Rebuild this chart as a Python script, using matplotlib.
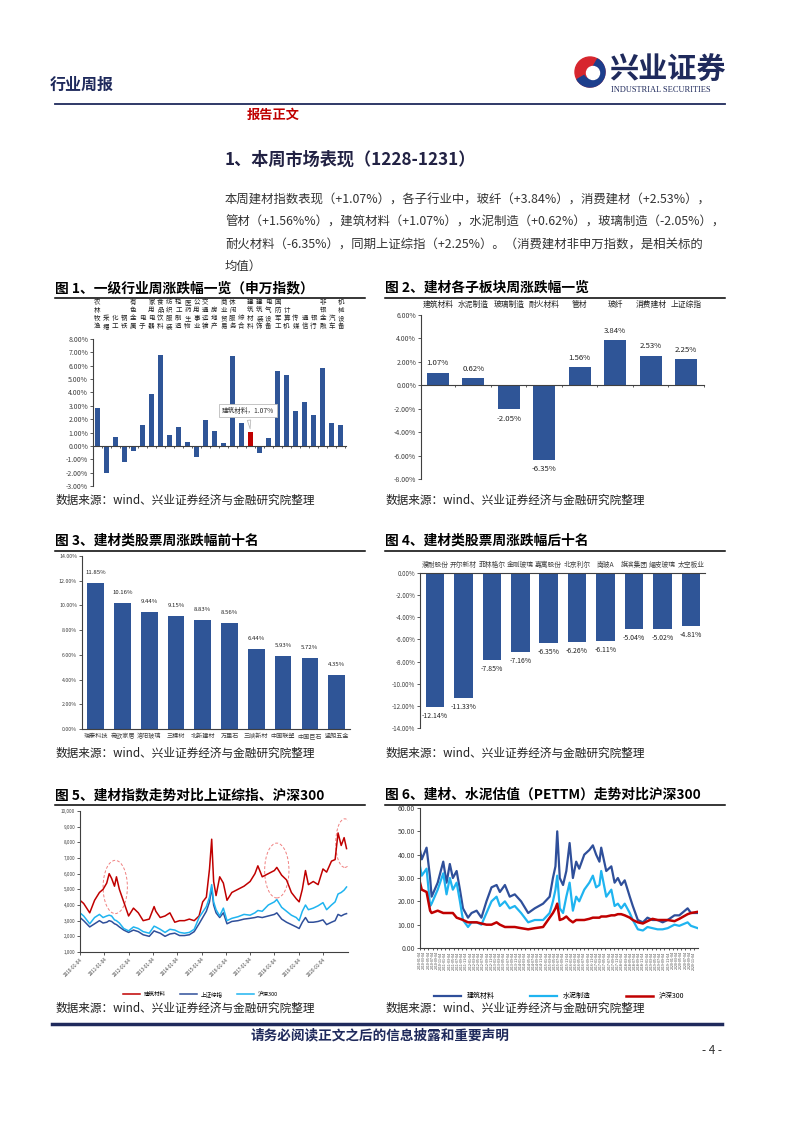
import matplotlib.pyplot as plt
import matplotlib.transforms as mtransforms
from matplotlib.patches import Ellipse, Wedge, Circle
import numpy as np

plt.rcParams['font.family'] = ['Noto Sans CJK SC', 'DejaVu Sans']
plt.rcParams['axes.unicode_minus'] = False

W, H = 793, 1122
NAVY = "#1F2A5C"
BAR = "#2F5597"
RED = "#C00000"
LIGHT = "#1FB4F0"

# 图1 申万一级行业周涨跌幅
sw_names = ["农林牧渔", "采掘", "化工", "钢铁", "有色金属", "电子", "家用电器", "食品饮料",
            "纺织服装", "轻工制造", "医药生物", "公用事业", "交通运输", "房地产", "商业贸易",
            "休闲服务", "综合", "建筑材料", "建筑装饰", "电气设备", "国防军工", "计算机",
            "传媒", "通信", "银行", "非银金融", "汽车", "机械设备"]
sw_values = [2.83, -2.00, 0.70, -1.17, -0.35, 1.55, 3.88, 6.80, 0.85, 1.40, 0.28, -0.83,
             1.95, 1.15, 0.20, 6.75, 1.70, 1.07, -0.50, 0.60, 5.60, 5.27, 2.60, 3.25,
             2.30, 5.80, 1.70, 1.60]

# 图2 建材子板块
sub_names = ["建筑材料", "水泥制造", "玻璃制造", "耐火材料", "管材", "玻纤", "消费建材", "上证综指"]
sub_values = [1.07, 0.62, -2.05, -6.35, 1.56, 3.84, 2.53, 2.25]

# 图3 前十名
top_names = ["瑞泰科技", "帝欧家居", "洛阳玻璃", "三棵树", "北新建材", "万里石", "三峡新材",
             "中国联塑", "中国巨石", "坚朗五金"]
top_values = [11.85, 10.16, 9.44, 9.15, 8.83, 8.56, 6.44, 5.93, 5.72, 4.35]

# 图4 后十名
bot_names = ["濮耐股份", "开尔新材", "菲林格尔", "金刚玻璃", "嘉寓股份", "北京利尔", "南玻A",
             "旗滨集团", "耀皮玻璃", "太空板业"]
bot_values = [-12.14, -11.33, -7.85, -7.16, -6.35, -6.26, -6.11, -5.04, -5.02, -4.81]

# 图5 指数走势（年份小数）
idx_t = [2010.0, 2010.15, 2010.4, 2010.6, 2010.8, 2010.95, 2011.1, 2011.2, 2011.3, 2011.42,
         2011.5, 2011.62, 2011.8, 2012.0, 2012.2, 2012.4, 2012.6, 2012.85, 2013.05, 2013.12,
         2013.3, 2013.5, 2013.7, 2013.9, 2014.1, 2014.3, 2014.5, 2014.7, 2014.9, 2015.05,
         2015.2, 2015.33, 2015.42, 2015.5, 2015.6, 2015.75, 2015.9, 2016.05, 2016.25,
         2016.5, 2016.75, 2017.0, 2017.2, 2017.32, 2017.5, 2017.75, 2018.0, 2018.1, 2018.3,
         2018.5, 2018.7, 2018.9, 2019.02, 2019.15, 2019.28, 2019.4, 2019.6, 2019.8, 2020.0,
         2020.15, 2020.35, 2020.5, 2020.62, 2020.75, 2020.87, 2020.97]
jc_index = [4300, 4100, 3500, 4300, 4800, 5000, 5400, 6000, 5700, 5200, 5800, 5000, 4200, 3300,
            3800, 3500, 3000, 3100, 3900, 3600, 3200, 3300, 3500, 2900, 3000, 3000, 3100, 3000,
            3300, 4200, 4500, 6300, 8200, 5500, 4600, 5800, 5400, 4300, 4800, 5000, 5200, 5500,
            6000, 6500, 5800, 6000, 6200, 6400, 5900, 5600, 4800, 4400, 4200, 5000, 6200, 5300,
            5500, 5300, 6300, 6100, 6800, 6900, 8600, 7800, 8300, 7600]
sh_index = [3200, 3000, 2600, 2800, 3000, 2850, 2900, 3000, 2950, 2800, 2750, 2600, 2400, 2250,
            2400, 2300, 2100, 2000, 2350, 2300, 2200, 2000, 2150, 2200, 2050, 2050, 2100, 2300,
            2800, 3200, 3600, 4200, 5100, 4000, 3500, 3200, 3500, 2800, 2950, 3000, 3100, 3150,
            3200, 3250, 3200, 3300, 3400, 3500, 3100, 2900, 2750, 2600, 2500, 2900, 3200, 2900,
            2900, 2950, 3050, 2750, 2900, 3000, 3400, 3300, 3400, 3450]
hs_index = [3500, 3300, 2800, 3200, 3400, 3200, 3300, 3350, 3300, 3050, 3000, 2850, 2500, 2350,
            2600, 2500, 2300, 2200, 2650, 2600, 2450, 2250, 2450, 2400, 2250, 2200, 2250, 2450,
            3200, 3550, 3900, 4500, 5300, 4200, 3700, 3300, 3800, 3000, 3150, 3250, 3400, 3350,
            3500, 3650, 3600, 4000, 4200, 4350, 3850, 3600, 3350, 3200, 3000, 3600, 4000, 3700,
            3800, 3950, 4150, 3700, 4000, 4200, 4700, 4800, 4950, 5150]

# 图6 PE(TTM)
pe_t = [2010.0, 2010.07, 2010.26, 2010.4, 2010.46, 2010.7, 2010.92, 2011.05, 2011.18, 2011.3,
        2011.45, 2011.58, 2011.7, 2011.9, 2012.04, 2012.24, 2012.43, 2012.63, 2012.83,
        2013.03, 2013.16, 2013.36, 2013.55, 2013.75, 2014.0, 2014.28, 2014.54, 2014.87,
        2015.13, 2015.26, 2015.36, 2015.43, 2015.53, 2015.66, 2015.79, 2015.92, 2016.05,
        2016.18, 2016.3, 2016.5, 2016.7, 2016.84, 2016.97, 2017.1, 2017.17, 2017.37, 2017.57,
        2017.7, 2017.83, 2017.96, 2018.1, 2018.3, 2018.42, 2018.62, 2018.82, 2019.0, 2019.2,
        2019.4, 2019.6, 2019.8, 2020.07, 2020.26, 2020.59, 2020.72, 2020.99]
pe_jc = [42, 38, 43, 30, 22, 28, 37, 28, 36, 30, 33, 25, 17, 13, 15, 16, 13, 20, 26, 27, 24, 27,
         22, 23, 20, 15, 17, 19, 22, 30, 35, 50, 30, 27, 33, 45, 30, 37, 34, 40, 42, 44, 40, 37,
         43, 33, 35, 28, 30, 27, 29, 22, 18, 12, 11, 13, 12, 12, 11, 12, 14, 14, 17, 15, 15]
pe_sn = [35, 31, 34, 18, 19, 25, 32, 23, 30, 25, 28, 20, 12, 9, 11, 11, 10, 15, 20, 22, 18, 20,
         17, 18, 15, 11, 12, 12, 15, 20, 25, 31, 17, 15, 22, 28, 16, 22, 20, 25, 28, 31, 26, 27,
         33, 22, 25, 18, 19, 17, 19, 15, 12, 8, 7.5, 9, 8.5, 8, 8, 8.5, 10, 9.5, 11, 9.5, 8.5]
pe_hs = [28, 25, 24, 16, 15, 16, 15, 15, 15, 15, 13, 12.5, 12, 11, 11, 11, 10.5, 10, 10, 11, 10,
         9, 9, 9, 8.5, 8, 8.5, 9, 13, 15, 17, 19, 12, 12.5, 13.5, 12, 11, 12, 12, 12, 12.5, 13,
         13, 13, 13.5, 13.5, 14, 14, 14.5, 14.5, 14, 13, 12, 11, 10.5, 11.5, 12.5, 12, 12, 12,
         11.5, 12.5, 14.5, 15, 15.5]

body_lines = [
    "本周建材指数表现（+1.07%），各子行业中，玻纤（+3.84%），消费建材（+2.53%），",
    "管材（+1.56%%），建筑材料（+1.07%），水泥制造（+0.62%），玻璃制造（-2.05%），",
    "耐火材料（-6.35%），同期上证综指（+2.25%）。（消费建材非申万指数，是相关标的",
    "均值）",
]
source = "数据来源：wind、兴业证券经济与金融研究院整理"

fig = plt.figure(figsize=(W / 100, H / 100), dpi=100)

# 整页坐标（像素）
pg = fig.add_axes([0, 0, 1, 1])
pg.set_xlim(0, W)
pg.set_ylim(H, 0)
pg.axis('off')


def page_axes(left, top, right, bottom):
    return fig.add_axes([left / W, 1 - bottom / H, (right - left) / W, (bottom - top) / H])


def style_axes(ax, fs):
    for s in ['top', 'right']:
        ax.spines[s].set_visible(False)
    for s in ['left', 'bottom']:
        ax.spines[s].set_color('#404040')
        ax.spines[s].set_linewidth(0.8)
    ax.tick_params(axis='both', labelsize=fs, length=2, width=0.6, colors='#404040',
                   pad=1.5)


# 页眉
pg.text(50, 85, "行业周报", fontsize=11.5, fontweight='bold', color=NAVY, va='center')
pg.plot([55, 725], [104, 104], color=NAVY, lw=1.3)
pg.add_patch(Circle((590, 72), 15, color='#D7262E'))
pg.add_patch(Wedge((590, 72), 15, -60, 150, width=8, color='#1D3E8C'))
pg.add_patch(Circle((593, 73), 6.5, color='white'))
pg.text(609, 70, "兴业证券", fontsize=21, fontweight='bold', color=NAVY, va='center')
pg.text(611, 90, "INDUSTRIAL SECURITIES", fontsize=6, family='Liberation Serif',
        color=NAVY, va='center')
pg.text(247, 115, "报告正文", fontsize=9.5, fontweight='bold', color=RED, va='center')
pg.text(225, 160, "1、本周市场表现（1228-1231）", fontsize=12.3, fontweight='bold',
        color='#222244', va='center')
for k, line in enumerate(body_lines):
    pg.text(225, 200 + 22 * k, line, fontsize=8.9, color='#333333', va='center')

# 图标题与来源
titles = [
    (55, 288, 365, "图 1、一级行业周涨跌幅一览（申万指数）"),
    (385, 288, 725, "图 2、建材各子板块周涨跌幅一览"),
    (55, 541, 365, "图 3、建材类股票周涨跌幅前十名"),
    (385, 541, 725, "图 4、建材类股票周涨跌幅后十名"),
    (55, 795, 365, "图 5、建材指数走势对比上证综指、沪深300"),
    (385, 795, 725, "图 6、建材、水泥估值（PETTM）走势对比沪深300"),
]
for x0, y0, x1, t in titles:
    pg.text(x0, y0, t, fontsize=9.9, fontweight='bold', color='black', va='center')
    pg.plot([x0, x1], [y0 + 10, y0 + 10], color='black', lw=1.1)
for x0, y0 in [(55, 500), (385, 500), (55, 753), (385, 753), (55, 1008), (385, 1008)]:
    pg.text(x0, y0, source, fontsize=8.4, color='#222222', va='center')

# 页脚
pg.plot([52, 722], [1024, 1024], color=NAVY, lw=2.5)
pg.text(380, 1035, "请务必阅读正文之后的信息披露和重要声明", fontsize=9.8, fontweight='bold',
        color=NAVY, ha='center', va='center')
pg.text(722, 1051, "- 4 -", fontsize=8.5, color='#333333', ha='right', va='center')


def pct(v, d=2):
    return f"{v:.{d}f}%"


# 图1
ax1 = page_axes(93, 339, 346, 486)
style_axes(ax1, 5)
x = np.arange(len(sw_names))
colors = [RED if n == "建筑材料" else BAR for n in sw_names]
ax1.bar(x, sw_values, width=0.6, color=colors)
ax1.set_xlim(-0.48, len(sw_names) - 0.4)
ax1.set_ylim(-3, 8)
ax1.set_yticks(np.arange(-3, 9, 1))
ax1.set_yticklabels([pct(v) for v in np.arange(-3, 9, 1)])
ax1.spines['bottom'].set_position(('data', 0))
ax1.set_xticks(np.arange(len(sw_names)) + 0.5)
ax1.set_xticklabels([])
ax1.tick_params(axis='x', length=1.5)
tr1 = mtransforms.blended_transform_factory(ax1.transData, ax1.transAxes)
for i, n in enumerate(sw_names):
    ax1.text(i, 1.06, "\n".join(n), transform=tr1, fontsize=4.7, ha='center', va='bottom',
             linespacing=1.0, color='#222222')
j = sw_names.index("建筑材料")
ax1.annotate(f"建筑材料，{sw_values[j]:.2f}%", xy=(j, sw_values[j]), xytext=(j - 0.3, 2.65),
             fontsize=4.8, ha='center', va='center', color='#333333',
             bbox=dict(boxstyle='square,pad=0.4', fc='white', ec='#BBBBBB', lw=0.6),
             arrowprops=dict(arrowstyle='wedge,tail_width=0.5', fc='white', ec='#BBBBBB',
                             lw=0.6))

# 图2
ax2 = page_axes(421, 315, 704, 479)
style_axes(ax2, 5)
x = np.arange(len(sub_names))
ax2.bar(x, sub_values, width=0.61, color=BAR)
ax2.set_xlim(-0.47, len(sub_names) - 0.5)
ax2.set_ylim(-8, 6)
ax2.set_yticks(np.arange(-8, 7, 2))
ax2.set_yticklabels([pct(v) for v in np.arange(-8, 7, 2)])
ax2.spines['bottom'].set_position(('data', 0))
ax2.set_xticks(np.arange(len(sub_names)) + 0.5)
ax2.set_xticklabels([])
ax2.tick_params(axis='x', length=1.5)
tr2 = mtransforms.blended_transform_factory(ax2.transData, ax2.transAxes)
for i, (n, v) in enumerate(zip(sub_names, sub_values)):
    ax2.text(i, 1.06, n, transform=tr2, fontsize=5.6, ha='center', va='center',
             color='#222222')
    off = 0.45 if v >= 0 else -0.45
    ax2.text(i, v + off, pct(v), fontsize=5.6, ha='center', va='bottom' if v >= 0 else 'top',
             color='#222222')

# 图3
ax3 = page_axes(82, 556, 350, 729)
style_axes(ax3, 3.8)
x = np.arange(len(top_names))
ax3.bar(x, top_values, width=0.62, color=BAR)
ax3.set_xlim(-0.51, len(top_names) - 0.5)
ax3.set_ylim(0, 14)
ax3.set_yticks(np.arange(0, 15, 2))
ax3.set_yticklabels([pct(v) for v in np.arange(0, 15, 2)])
ax3.set_xticks(x)
ax3.set_xticklabels(top_names, fontsize=4.4)
ax3.tick_params(axis='x', length=0, pad=2)
for i, v in enumerate(top_values):
    ax3.text(i, v + 0.65, pct(v), fontsize=4.3, ha='center', va='bottom', color='#222222')

# 图4
ax4 = page_axes(420, 573, 705, 728)
style_axes(ax4, 4.5)
x = np.arange(len(bot_names))
ax4.bar(x, bot_values, width=0.65, color=BAR)
ax4.set_xlim(-0.53, len(bot_names) - 0.5)
ax4.set_ylim(-14, 0)
ax4.set_yticks(np.arange(-14, 1, 2))
ax4.set_yticklabels([pct(v) for v in np.arange(-14, 1, 2)])
ax4.spines['bottom'].set_visible(False)
ax4.spines['top'].set_visible(True)
ax4.spines['top'].set_color('#404040')
ax4.spines['top'].set_linewidth(0.8)
ax4.xaxis.set_ticks_position('top')
ax4.set_xticks(x)
ax4.set_xticklabels(bot_names, fontsize=4.9)
ax4.tick_params(axis='x', length=0, pad=3, labeltop=True, labelbottom=False)
for i, v in enumerate(bot_values):
    ax4.text(i, v - 0.45, pct(v), fontsize=5, ha='center', va='top', color='#222222')

# 图5
ax5 = page_axes(80, 811, 348, 952)
style_axes(ax5, 3.3)
ax5.plot(idx_t, jc_index, color=RED, lw=1.1, label="建筑材料")
ax5.plot(idx_t, sh_index, color="#2F4F9A", lw=1.1, label="上证综指")
ax5.plot(idx_t, hs_index, color=LIGHT, lw=1.1, label="沪深300")
ax5.set_xlim(2010.0, 2021.03)
ax5.set_ylim(1000, 10000)
ax5.set_yticks(np.arange(1000, 10001, 1000))
ax5.set_yticklabels([f"{v:,}" for v in range(1000, 10001, 1000)])
years = list(range(2010, 2021))
ax5.set_xticks([y + 0.003 for y in years])
ax5.set_xticklabels([f"{y}-01-04" for y in years], rotation=45, ha='right',
                    rotation_mode='anchor', fontsize=3.3)
for cx, cy, w, h in [(2011.45, 5150, 1.0, 3400), (2018.1, 6200, 1.0, 3500),
                     (2020.9, 7950, 0.75, 3100)]:
    ax5.add_patch(Ellipse((cx, cy), w, h, fill=False, ec='#F08080', ls=(0, (3, 2)), lw=0.7))
ax5.legend(loc='upper center', bbox_to_anchor=(0.45, -0.24), ncol=3, frameon=False,
           fontsize=4, handlelength=3, columnspacing=2.5)

# 图6
ax6 = page_axes(420, 808, 698, 948)
style_axes(ax6, 5)
ax6.plot(pe_t, pe_jc, color="#2F4F9A", lw=1.6, label="建筑材料")
ax6.plot(pe_t, pe_sn, color=LIGHT, lw=1.6, label="水泥制造")
ax6.plot(pe_t, pe_hs, color=RED, lw=1.8, label="沪深300")
ax6.set_xlim(2010.0, 2021.0)
ax6.set_ylim(0, 60)
ax6.set_yticks(np.arange(0, 61, 10))
ax6.set_yticklabels([f"{v:.2f}" for v in range(0, 61, 10)])
ticks6 = [y + m / 12 for y in range(2010, 2021) for m in range(0, 12, 2)]
labels6 = [f"{y}-{m + 1:02d}-04" for y in range(2010, 2021) for m in range(0, 12, 2)]
ax6.set_xticks(ticks6)
ax6.set_xticklabels(labels6, rotation=90, fontsize=2.6)
ax6.tick_params(axis='x', length=1.5, pad=1)
ax6.legend(loc='upper center', bbox_to_anchor=(0.5, -0.27), ncol=3, frameon=False,
           fontsize=5, handlelength=4, columnspacing=5)

fig.savefig("out.png", dpi=100)
